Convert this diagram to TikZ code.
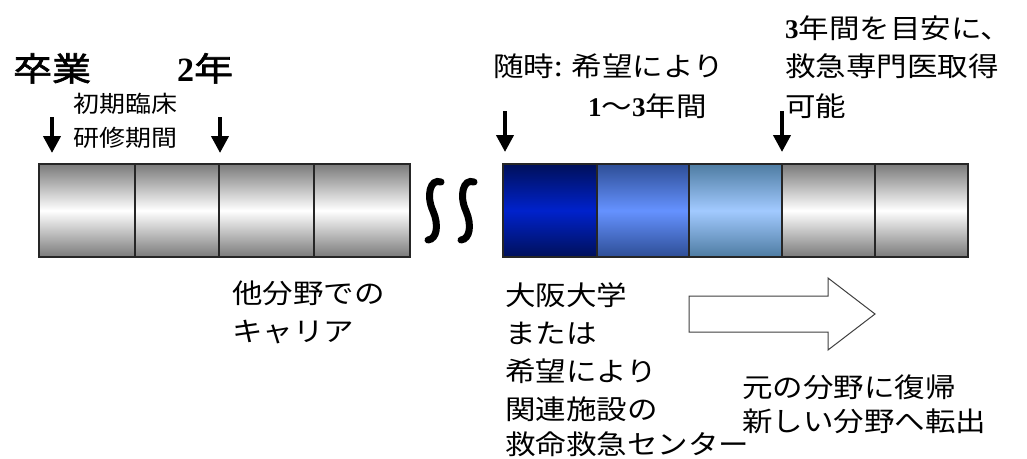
\documentclass[tikz,border=0pt]{standalone}
\usepackage{fontspec}
\usetikzlibrary{arrows.meta}
\newfontfamily\jp[FakeStretch=1.13]{Noto Sans CJK JP}
\newfontfamily\jpb[FakeStretch=1.18,FakeBold=2]{Noto Sans CJK JP}
\newfontfamily\ser{Liberation Serif}
\definecolor{cellgray}{HTML}{7A7A7A}
\definecolor{navyedge}{HTML}{00105A}
\definecolor{navymid}{HTML}{0022CC}
\definecolor{midedge}{HTML}{2E4E96}
\definecolor{midmid}{HTML}{6592FF}
\definecolor{lightedge}{HTML}{4E7CA2}
\definecolor{lightmid}{HTML}{A2CAFF}
\tikzset{
  lbl/.style={inner sep=0pt, anchor=base west, font=\jp\fontsize{27}{38}\selectfont},
  small/.style={inner sep=0pt, anchor=base west, font=\jp\fontsize{23}{30}\selectfont},
  big/.style={inner sep=0pt, anchor=base west, font=\jpb\fontsize{33}{40}\selectfont},
  cellborder/.style={draw=black!85, line width=1.4pt},
  graycell/.style={cellborder, top color=cellgray, bottom color=cellgray, middle color=white},
  bluecellA/.style={cellborder, top color=navyedge, bottom color=navyedge, middle color=navymid},
  bluecellB/.style={cellborder, top color=midedge, bottom color=midedge, middle color=midmid},
  bluecellC/.style={cellborder, top color=lightedge, bottom color=lightedge, middle color=lightmid},
  downarrow/.style={line width=4pt, -{Triangle[width=17pt,length=17pt]}},
  squiggle/.style={line width=7pt, line cap=round},
  blockarrow/.style={draw=black!75, line width=1pt, fill=white, line join=miter}
}
\begin{document}
\begin{tikzpicture}[x=1pt,y=-1pt]
\useasboundingbox[fill=white] (0,0) rectangle (1027,458);

% left bar
\shadedraw[graycell] (39,164) rectangle (135,257);
\shadedraw[graycell] (135,164) rectangle (219,257);
\shadedraw[graycell] (219,164) rectangle (314,257);
\shadedraw[graycell] (314,164) rectangle (410,257);

% right bar
\shadedraw[bluecellA] (503,164) rectangle (597,257);
\shadedraw[bluecellB] (597,164) rectangle (689,257);
\shadedraw[bluecellC] (689,164) rectangle (782,257);
\shadedraw[graycell] (782,164) rectangle (875,257);
\shadedraw[graycell] (875,164) rectangle (968,257);

% break marks
\draw[squiggle] (441,182) .. controls (430,178) and (426,196) .. (433,211)
  .. controls (439,225) and (437,239) .. (428,240);
\draw[squiggle] (474,182) .. controls (463,178) and (459,196) .. (466,211)
  .. controls (472,225) and (470,239) .. (461,240);

% top labels
\node[big] (sotsu) at (13,81) {卒業};
\node[big] (ninen) at (177,81) {{\ser\bfseries\fontsize{34}{40}\selectfont 2}年};
\node[small] (shoki1) at (73,112) {初期臨床};
\node[small] (shoki2) at (73,146) {研修期間};
\node[lbl] (zuiji) at (493,76) {随時: 希望により};
\node[lbl] (nenkan) at (588,116) {{\ser\bfseries 1}〜{\ser\bfseries 3}年間};
\node[lbl] (meyasu1) at (785,38) {{\ser\bfseries 3}年間を目安に、};
\node[lbl] (meyasu2) at (785,76) {救急専門医取得};
\node[lbl] (meyasu3) at (785,116) {可能};

% down arrows
\coordinate (a1s) at (52,117);  \coordinate (a1e) at (52,153);
\coordinate (a2s) at (220,117); \coordinate (a2e) at (220,153);
\coordinate (a3s) at (505,111); \coordinate (a3e) at (505,152);
\coordinate (a4s) at (782,111); \coordinate (a4e) at (782,152);
\draw[downarrow] (a1s) -- (a1e);
\draw[downarrow] (a2s) -- (a2e);
\draw[downarrow] (a3s) -- (a3e);
\draw[downarrow] (a4s) -- (a4e);

% bottom labels
\node[lbl] (tabun1) at (232,303) {他分野での};
\node[lbl] (tabun2) at (232,341) {キャリア};
\node[lbl] (oosaka1) at (505,305) {大阪大学};
\node[lbl] (oosaka2) at (505,343) {または};
\node[lbl] (oosaka3) at (505,381) {希望により};
\node[lbl] (oosaka4) at (505,419) {関連施設の};
\node[lbl] (oosaka5) at (505,454) {救命救急センター};
\node[lbl] (moto1) at (742,397) {元の分野に復帰};
\node[lbl] (moto2) at (742,431) {新しい分野へ転出};

% block arrow
\draw[blockarrow] (689,296) -- (828,296) -- (828,278) -- (875,314) -- (828,350) -- (828,332) -- (689,332) -- cycle;
\end{tikzpicture}
\end{document}
